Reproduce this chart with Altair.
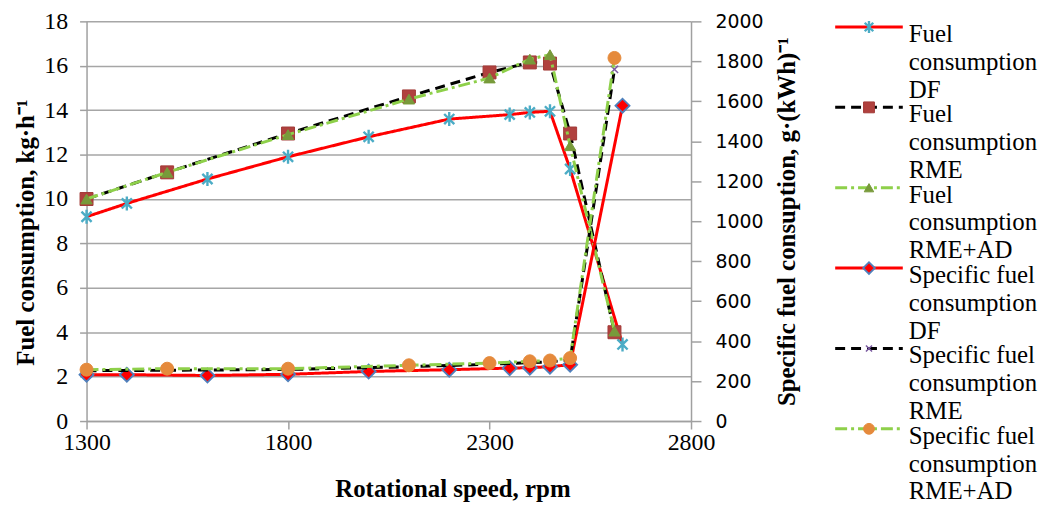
import altair as alt
import pandas as pd

# ---------------- data ----------------
rpm_df = [1300, 1400, 1600, 1800, 2000, 2200, 2350, 2400, 2450, 2500, 2630]
fc_df = [9.2, 9.8, 10.9, 11.9, 12.8, 13.6, 13.8, 13.9, 13.95, 11.35, 3.45]
sfc_df = [232, 232, 228, 234, 248, 257, 265, 267, 272, 282, 1578]

rpm_rme = [1300, 1500, 1800, 2100, 2300, 2400, 2450, 2500, 2610]
fc_rme = [10.0, 11.2, 12.95, 14.62, 15.7, 16.15, 16.1, 12.95, 4.0]
fc_rme_ad = [10.0, 11.2, 12.9, 14.5, 15.45, 16.3, 16.5, 12.4, 4.05]
sfc_rme = [252, 254, 258, 272, 284, 292, 296, 306, 1760]
sfc_rme_ad = [257, 262, 262, 279, 290, 299, 303, 315, 1817]

series_names = [
    "Fuel consumption DF",
    "Fuel consumption RME",
    "Fuel consumption RME+AD",
    "Specific fuel consumption DF",
    "Specific fuel consumption RME",
    "Specific fuel consumption RME+AD",
]
legend_labels = [
    "Fuel\nconsumption\nDF",
    "Fuel\nconsumption\nRME",
    "Fuel\nconsumption\nRME+AD",
    "Specific fuel\nconsumption\nDF",
    "Specific fuel\nconsumption\nRME",
    "Specific fuel\nconsumption\nRME+AD",
]
x_ticks = [1300, 1800, 2300, 2800]
left_ticks = list(range(0, 19, 2))
right_ticks = list(range(0, 2001, 200))

# ---------------- styles ----------------
SERIF = "Liberation Serif"
ASTERISK = "M0,-1L0,1M-0.72,-0.72L0.72,0.72M-0.72,0.72L0.72,-0.72"
XMARK = "M-0.7,-0.7L0.7,0.7M-0.7,0.7L0.7,-0.7"
RED, BLACK, GREEN = "#FF0000", "#000000", "#8ED04A"
SOLID, DASH, DASHDOT = [1, 0], [10, 6], [12, 4, 3, 4]
AXIS_GREY = "#A0A0A0"
PLOT_W, PLOT_H = 608, 402

styles = [
    dict(color=RED, dash=SOLID, shape=ASTERISK, fill="transparent", stroke="#4BACC6", size=200, sw=2.4),
    dict(color=BLACK, dash=DASH, shape="square", fill="#B0413E", stroke="#A23A37", size=170, sw=1),
    dict(color=GREEN, dash=DASHDOT, shape="triangle-up", fill="#789A3A", stroke="#789A3A", size=130, sw=1),
    dict(color=RED, dash=SOLID, shape="diamond", fill="#FF0000", stroke="#4F81BD", size=200, sw=1.8),
    dict(color=BLACK, dash=DASH, shape=XMARK, fill="transparent", stroke="#7A5AA0", size=110, sw=1.5),
    dict(color=GREEN, dash=DASHDOT, shape="circle", fill="#E58A3C", stroke="#E58A3C", size=170, sw=1),
]

x_enc = alt.X(
    "rpm:Q",
    scale=alt.Scale(domain=[1300, 2800], nice=False, zero=False),
    axis=alt.Axis(values=x_ticks, format="d", labelFlush=False, title="Rotational speed, rpm", grid=False,
                  labelFont=SERIF, labelFontSize=24, labelColor="#000",
                  titleFont=SERIF, titleFontSize=25, titleFontWeight="bold", titleColor="#000",
                  titleX=368, tickSize=8, labelPadding=2, titlePadding=22,
                  domainColor=AXIS_GREY, tickColor=AXIS_GREY, domainWidth=1.5, tickWidth=1.5),
)

left_axis = alt.Axis(values=left_ticks, format="d", orient="left", grid=True, gridColor="#A6A6A6", gridWidth=1.5,
                     title="Fuel consumption, kg·h⁻¹", labelFont=SERIF, labelFontSize=24, labelColor="#000",
                     titleFont=SERIF, titleFontSize=25, titleFontWeight="bold", titleColor="#000",
                     titleY=212, tickSize=7, labelPadding=12, titlePadding=5,
                     domainColor=AXIS_GREY, tickColor=AXIS_GREY, domainWidth=1.5, tickWidth=1.5)
right_axis = alt.Axis(values=right_ticks, format="d", orient="right", grid=False,
                      title="Specific fuel consuption, g·(kWh)⁻¹", titleAngle=270, titleBaseline="top",
                      labelFont="DejaVu Sans", labelFontSize=19, labelColor="#000",
                      titleFont=SERIF, titleFontSize=25, titleFontWeight="bold", titleColor="#000",
                      tickSize=10, labelPadding=14, titlePadding=12,
                      domainColor=AXIS_GREY, tickColor=AXIS_GREY, domainWidth=1.5, tickWidth=1.5)


def series_layers(rpm, vals, st, y_scale, y_axis):
    df = pd.DataFrame({"rpm": rpm, "v": vals})
    y_enc = alt.Y("v:Q", scale=y_scale, axis=y_axis)
    base = alt.Chart(df)
    line = base.mark_line(color=st["color"], strokeDash=st["dash"], strokeWidth=3).encode(x=x_enc, y=y_enc)
    pts = base.mark_point(shape=st["shape"], filled=False, fill=st["fill"], stroke=st["stroke"],
                          strokeWidth=st["sw"], size=st["size"], opacity=1).encode(x=x_enc, y=y_enc)
    return [line, pts]


ls = alt.Scale(domain=[0, 18], nice=False, zero=True)
rs = alt.Scale(domain=[0, 2000], nice=False, zero=True)

left_layers = (series_layers(rpm_df, fc_df, styles[0], ls, left_axis)
               + series_layers(rpm_rme, fc_rme, styles[1], ls, left_axis)
               + series_layers(rpm_rme, fc_rme_ad, styles[2], ls, left_axis))
right_layers = (series_layers(rpm_df, sfc_df, styles[3], rs, right_axis)
                + series_layers(rpm_rme, sfc_rme, styles[4], rs, right_axis)
                + series_layers(rpm_rme, sfc_rme_ad, styles[5], rs, right_axis))

main = alt.layer(alt.layer(*left_layers), alt.layer(*right_layers)).resolve_scale(y="independent").properties(
    width=PLOT_W, height=PLOT_H)

# ---------------- legend (built from the same names) ----------------
leg_df = pd.DataFrame({"idx": list(range(6)), "label": legend_labels, "series": series_names})
y_leg = alt.Y("idx:Q", scale=alt.Scale(domain=[-0.07, 5.93], reverse=True), axis=None)
leg_layers = []
for i, st in enumerate(styles):
    b = alt.Chart(leg_df.iloc[[i]])
    leg_layers.append(b.mark_rule(color=st["color"], strokeDash=st["dash"], strokeWidth=3).encode(
        x=alt.value(0), x2=alt.value(68), y=y_leg))
    leg_layers.append(b.mark_point(shape=st["shape"], filled=False, fill=st["fill"], stroke=st["stroke"],
                                   strokeWidth=st["sw"], size=st["size"] * 0.7, opacity=1).encode(
        x=alt.value(34), y=y_leg))
leg_layers.append(alt.Chart(leg_df).mark_text(align="left", baseline="top", lineBreak="\n", lineHeight=28,
                                              font=SERIF, fontSize=25, color="#000", dy=-5).encode(
    x=alt.value(74), y=y_leg, text="label:N"))
legend = alt.layer(*leg_layers).properties(width=205, height=485)

chart = alt.hconcat(main, legend, spacing=33).properties(
    padding={"left": 6, "top": 0, "right": 0, "bottom": 0}
).configure(background="white").configure_view(stroke=None)

chart.save("out.html", embed_options={"renderer": "svg", "actions": False})
